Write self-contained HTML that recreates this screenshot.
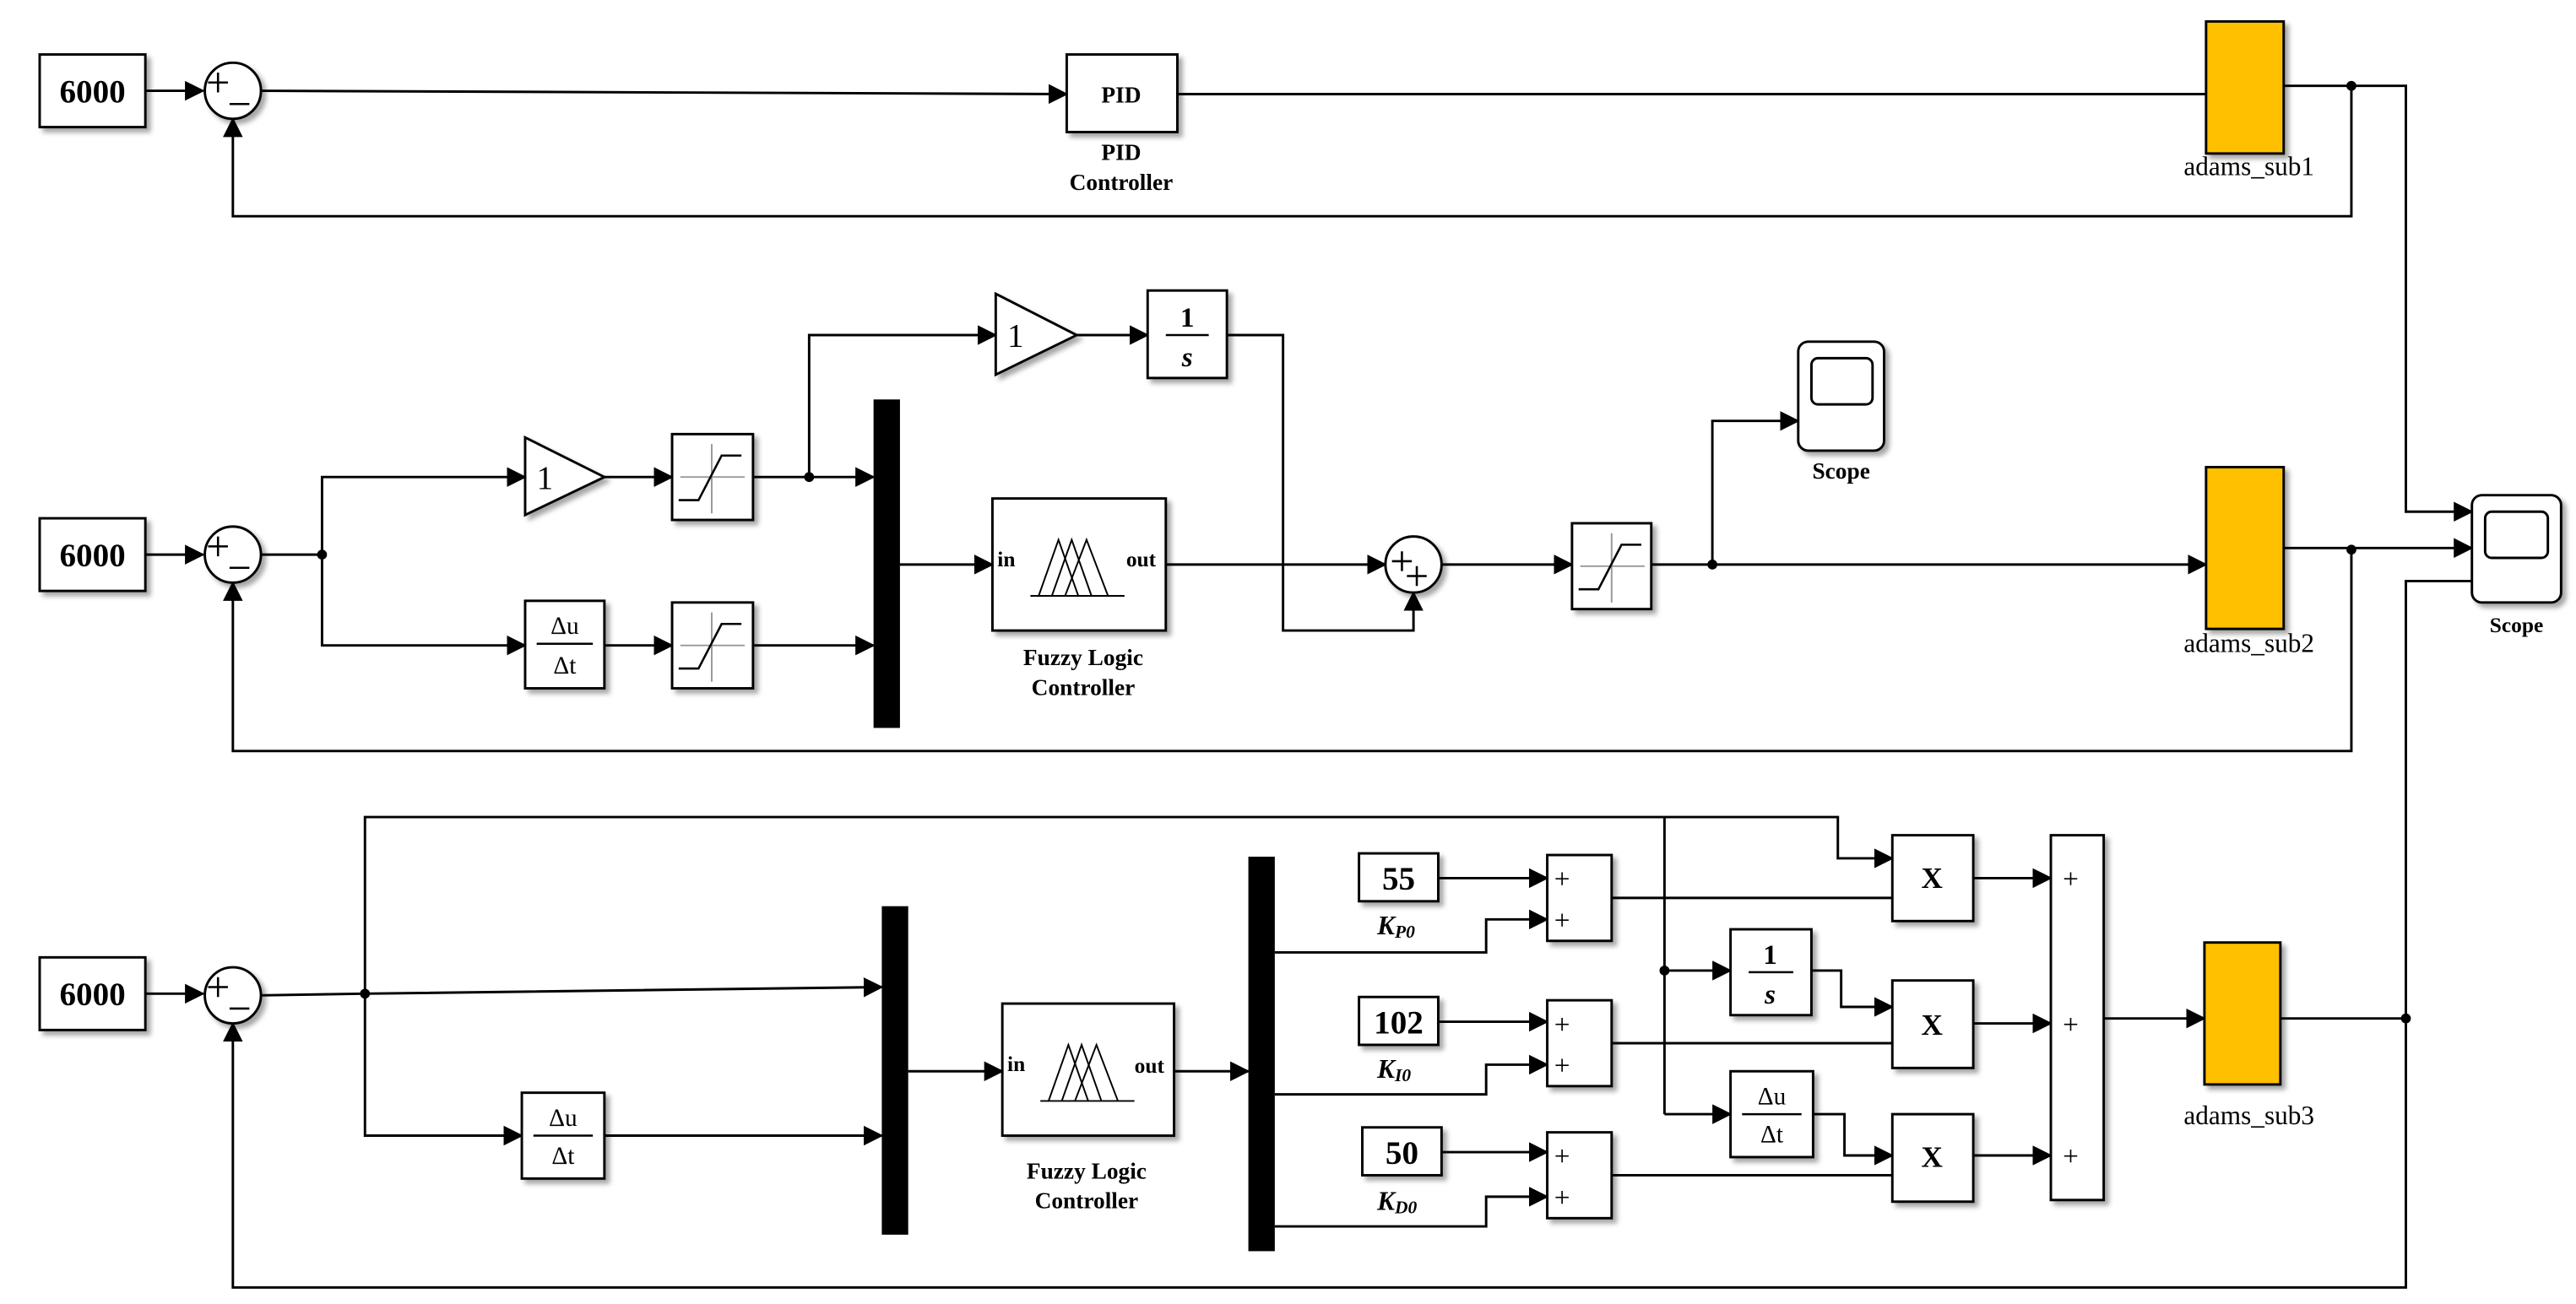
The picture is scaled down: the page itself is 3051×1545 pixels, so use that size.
<!DOCTYPE html>
<html><head><meta charset="utf-8"><style>
html,body{margin:0;padding:0;background:#fff;}
svg{display:block;}
text{font-family:"Liberation Serif",serif;}
</style></head><body>
<svg width="3051" height="1545" viewBox="0 0 1560 790" xmlns="http://www.w3.org/2000/svg">
<defs>
<marker id="a" markerUnits="userSpaceOnUse" markerWidth="12" markerHeight="12" refX="11" refY="6" orient="auto">
<path d="M0,0 L12,6 L0,12 z" fill="#000"/></marker>
<filter id="sh" x="-20%" y="-20%" width="150%" height="150%"><feDropShadow dx="2.5" dy="2.5" stdDeviation="1.5" flood-color="#000" flood-opacity="0.35"/></filter>
</defs>
<g fill="none" stroke="#000" stroke-width="1.5">
<path d="M88,55 H123" marker-end="url(#a)"/>
<path d="M158,55 L646,57" marker-end="url(#a)"/>
<path d="M713,57 H1336"/>
<path d="M1383,52 H1457 V310 H1497" marker-end="url(#a)"/>
<path d="M1424,52 V131 H141 V72" marker-end="url(#a)"/>
<path d="M88,336 H123" marker-end="url(#a)"/>
<path d="M158,336 H195 V289 H318" marker-end="url(#a)"/>
<path d="M195,336 V391 H318" marker-end="url(#a)"/>
<path d="M366,289 H407" marker-end="url(#a)"/>
<path d="M456,289 H529" marker-end="url(#a)"/>
<path d="M490,289 V203 H603" marker-end="url(#a)"/>
<path d="M652,203 H695" marker-end="url(#a)"/>
<path d="M743,203 H777 V382 H856 V359" marker-end="url(#a)"/>
<path d="M366,391 H407" marker-end="url(#a)"/>
<path d="M456,391 H529" marker-end="url(#a)"/>
<path d="M545,342 H601" marker-end="url(#a)"/>
<path d="M706,342 H839" marker-end="url(#a)"/>
<path d="M873,342 H952" marker-end="url(#a)"/>
<path d="M1000,342 H1336" marker-end="url(#a)"/>
<path d="M1037,342 V255 H1089" marker-end="url(#a)"/>
<path d="M1383,332 H1424 L1497,332" marker-end="url(#a)"/>
<path d="M1424,333 V455 H141 V353" marker-end="url(#a)"/>
<path d="M88,602 H123" marker-end="url(#a)"/>
<path d="M158,603 L221,602 L534,598" marker-end="url(#a)"/>
<path d="M221,602 V495 H1113 V520 H1146" marker-end="url(#a)"/>
<path d="M221,602 V688 H316" marker-end="url(#a)"/>
<path d="M366,688 H534" marker-end="url(#a)"/>
<path d="M550,649 H607" marker-end="url(#a)"/>
<path d="M711,649 H756" marker-end="url(#a)"/>
<path d="M772,577 H900 V557 H937" marker-end="url(#a)"/>
<path d="M772,663 H900 V645 H937" marker-end="url(#a)"/>
<path d="M772,743 H900 V725 H937" marker-end="url(#a)"/>
<path d="M871,532 H937" marker-end="url(#a)"/>
<path d="M871,619 H937" marker-end="url(#a)"/>
<path d="M873,698 H937" marker-end="url(#a)"/>
<path d="M976,544 H1146"/>
<path d="M976,632 H1146"/>
<path d="M976,712 H1146"/>
<path d="M1008,495 V675"/>
<path d="M1008,588 H1048" marker-end="url(#a)"/>
<path d="M1008,675 H1048" marker-end="url(#a)"/>
<path d="M1097,588 H1115 V610 H1146" marker-end="url(#a)"/>
<path d="M1098,675 H1117 V700 H1146" marker-end="url(#a)"/>
<path d="M1195,532 H1242" marker-end="url(#a)"/>
<path d="M1195,620 H1242" marker-end="url(#a)"/>
<path d="M1195,700 H1242" marker-end="url(#a)"/>
<path d="M1274,617 H1335" marker-end="url(#a)"/>
<path d="M1381,617 H1457"/>
<path d="M1497,352 H1457 V780 H141 V620" marker-end="url(#a)"/>
</g>
<g fill="#000">
<circle cx="1424" cy="52" r="3"/><circle cx="1424" cy="333" r="3"/>
<circle cx="195" cy="336" r="3"/><circle cx="490" cy="289" r="3"/><circle cx="1037" cy="342" r="3"/>
<circle cx="221" cy="602" r="3"/><circle cx="1008" cy="588" r="3"/><circle cx="1457" cy="617" r="3"/>
</g>
<g fill="#fff" stroke="#000" stroke-width="1.5" filter="url(#sh)">
<rect x="24" y="33" width="64" height="44"/>
<rect x="24" y="314" width="64" height="44"/>
<rect x="24" y="580" width="64" height="44"/>
<circle cx="141" cy="55" r="17"/><circle cx="141" cy="336" r="17"/><circle cx="141" cy="603" r="17"/>
<circle cx="856" cy="342" r="17"/>
<rect x="646" y="33" width="67" height="47"/>
<rect x="1336" y="13" width="47" height="80" fill="#FFC000"/>
<rect x="1336" y="283" width="47" height="98" fill="#FFC000"/>
<rect x="1335" y="571" width="46" height="86" fill="#FFC000"/>
<rect x="1497" y="300" width="54" height="65" rx="6"/>
<rect x="1089" y="207" width="52" height="66" rx="6"/>
<path d="M318,265 L366,289 L318,312 z"/>
<path d="M603,178 L652,203 L603,227 z"/>
<rect x="407" y="263" width="49" height="52"/>
<rect x="407" y="365" width="49" height="52"/>
<rect x="952" y="317" width="48" height="52"/>
<rect x="695" y="176" width="48" height="53"/>
<rect x="318" y="364" width="48" height="53"/>
<rect x="601" y="302" width="105" height="80"/>
<rect x="607" y="608" width="104" height="80"/>
<rect x="316" y="662" width="50" height="52"/>
<rect x="823" y="517" width="48" height="29"/>
<rect x="823" y="604" width="48" height="29"/>
<rect x="825" y="683" width="48" height="29"/>
<rect x="937" y="518" width="39" height="52"/>
<rect x="937" y="606" width="39" height="52"/>
<rect x="937" y="686" width="39" height="52"/>
<rect x="1048" y="563" width="49" height="52"/>
<rect x="1048" y="649" width="50" height="52"/>
<rect x="1146" y="506" width="49" height="52"/>
<rect x="1146" y="594" width="49" height="53"/>
<rect x="1146" y="675" width="49" height="53"/>
<rect x="1242" y="506" width="32" height="221"/>
</g>
<g fill="#000">
<rect x="529" y="242" width="16" height="199"/>
<rect x="534" y="549" width="16" height="199"/>
<rect x="756" y="519" width="16" height="239"/>
</g>
<g fill="#fff" stroke="#000" stroke-width="1.5">
<rect x="1505" y="310" width="38" height="28" rx="4"/>
<rect x="1097" y="217" width="37" height="28" rx="4"/>
</g>
<g stroke-width="1" fill="none">
<g transform="translate(407,263)"><path d="M5,26 H44 M24,6 V48" stroke="#999"/><path d="M4,40 H16 L30,13 H42" stroke="#000" stroke-width="1.3"/></g>
<g transform="translate(407,365)"><path d="M5,26 H44 M24,6 V48" stroke="#999"/><path d="M4,40 H16 L30,13 H42" stroke="#000" stroke-width="1.3"/></g>
<g transform="translate(952,317)"><path d="M5,26 H44 M24,6 V48" stroke="#999"/><path d="M4,40 H16 L30,13 H42" stroke="#000" stroke-width="1.3"/></g>
</g>
<g stroke="#000" stroke-width="1" fill="none">
<g transform="translate(601,302)"><path d="M23,59 H80 M28,59 L40,25 L52,59 M36,59 L48,25 L60,59 M44,59 L57,25 L70,59"/></g>
<g transform="translate(607,608)"><path d="M23,59 H80 M28,59 L40,25 L52,59 M36,59 L48,25 L60,59 M44,59 L57,25 L70,59"/></g>
</g>
<g stroke="#000" stroke-width="1.3">
<path d="M706,203 H732"/><path d="M1059,589 H1086"/>
<path d="M325,390 H359"/><path d="M323,688 H359"/><path d="M1055,675 H1091"/>
<!-- minus signs -->
<path d="M139,63 H151"/><path d="M139,344 H151"/><path d="M139,611 H151"/>
<!-- plus signs in sum circles -->
<path d="M126,50 H138 M132,44 V56"/>
<path d="M126,331 H138 M132,325 V337"/>
<path d="M126,598 H138 M132,592 V604"/>
<path d="M843,340 H855 M849,334 V346"/>
<path d="M852,349 H864 M858,343 V355"/>
</g>
<g font-weight="bold" font-size="20" text-anchor="middle">
<text x="56" y="62">6000</text><text x="56" y="343">6000</text><text x="56" y="609">6000</text>
<text x="847" y="539">55</text><text x="847" y="626">102</text><text x="849" y="705">50</text>
</g>
<g font-size="17" text-anchor="middle">
<text x="330" y="296" font-size="20">1</text><text x="615" y="210" font-size="20">1</text>
<text x="946" y="538">+</text><text x="946" y="563">+</text>
<text x="946" y="626">+</text><text x="946" y="651">+</text>
<text x="946" y="706">+</text><text x="946" y="731">+</text>
<text x="1254" y="538">+</text><text x="1254" y="626">+</text><text x="1254" y="706">+</text>
<text x="342" y="384" font-size="15">Δu</text><text x="342" y="408" font-size="15">Δt</text>
<text x="341" y="682" font-size="15">Δu</text><text x="341" y="705" font-size="15">Δt</text>
<text x="1073" y="669" font-size="15">Δu</text><text x="1073" y="692" font-size="15">Δt</text>
</g>
<g font-weight="bold" text-anchor="middle">
<text x="719" y="198" font-size="17">1</text><text x="719" y="222" font-size="17" font-style="italic">s</text>
<text x="1072" y="584" font-size="17">1</text><text x="1072" y="608" font-size="17" font-style="italic">s</text>
<text x="679" y="62" font-size="14">PID</text>
<text x="679" y="97" font-size="14">PID</text><text x="679" y="115" font-size="14">Controller</text>
<text x="656" y="403" font-size="14">Fuzzy Logic</text><text x="656" y="421" font-size="14">Controller</text>
<text x="658" y="714" font-size="14">Fuzzy Logic</text><text x="658" y="732" font-size="14">Controller</text>
<text x="1115" y="290" font-size="14">Scope</text><text x="1524" y="383" font-size="13">Scope</text>
<text x="1170" y="538" font-size="18">X</text><text x="1170" y="627" font-size="18">X</text><text x="1170" y="707" font-size="18">X</text>
</g>
<g font-weight="bold" font-size="13">
<text x="604" y="343">in</text><text x="682" y="343">out</text>
<text x="610" y="649">in</text><text x="687" y="650">out</text>
</g>
<g font-size="16" text-anchor="middle">
<text x="1362" y="106">adams_sub1</text><text x="1362" y="395">adams_sub2</text><text x="1362" y="681">adams_sub3</text>
</g>
<g font-weight="bold" font-style="italic" font-size="16">
<text x="834" y="566">K<tspan font-size="11" dy="2">P0</tspan></text>
<text x="834" y="653">K<tspan font-size="11" dy="2">I0</tspan></text>
<text x="834" y="733">K<tspan font-size="11" dy="2">D0</tspan></text>
</g>
</svg>
</body></html>
